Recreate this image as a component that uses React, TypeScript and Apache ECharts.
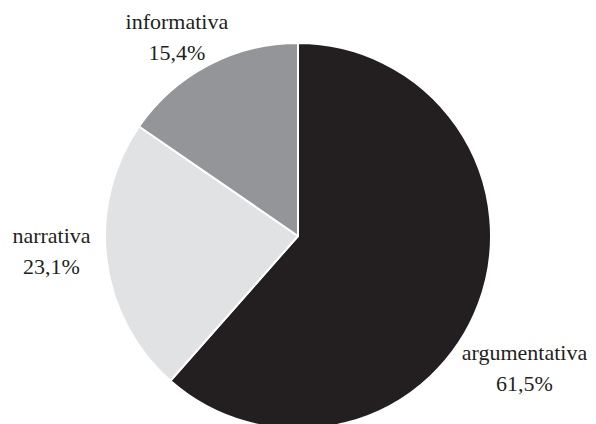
import React, { useEffect, useRef } from "react";
import * as echarts from "echarts";

const categories = ["argumentativa", "narrativa", "informativa"];
const values = [61.5, 23.1, 15.4];
const sliceColors = ["#231f20", "#e1e2e3", "#939598"];

// label placement (polar, relative to the pie's centre): extra angle in degrees and distance in px
const labelAngleShift = [9.5, 3.5, -3.6];
const labelDistance = [262, 247, 233];

const CX = 298;
const CY = 236;
const R = 193;

function fmt(v: number): string {
  return v.toFixed(1).replace(".", ",") + "%";
}

export default function App() {
  const ref = useRef<HTMLDivElement>(null);

  useEffect(() => {
    if (!ref.current) return;
    const chart = echarts.init(ref.current, null, { renderer: "svg" });
    const total = values.reduce((a, b) => a + b, 0);
    const mids: number[] = [];
    let acc = 0;
    values.forEach((v) => {
      mids.push(((acc + v / 2) / total) * 360);
      acc += v;
    });

    chart.setOption({
      animation: false,
      backgroundColor: "#ffffff",
      series: [
        {
          type: "pie",
          center: [CX, CY],
          radius: R,
          startAngle: 90,
          clockwise: true,
          silent: true,
          avoidLabelOverlap: false,
          data: categories.map((name, i) => ({
            name,
            value: values[i],
            itemStyle: { color: sliceColors[i] },
          })),
          itemStyle: { borderColor: "#ffffff", borderWidth: 2 },
          label: {
            show: true,
            position: "outside",
            alignTo: "none",
            overflow: "none",
            formatter: (p: any) => `${p.name}\n${fmt(p.value)}`,
            fontFamily: "Liberation Serif",
            fontSize: 22,
            lineHeight: 31,
            color: "#231f20",
            align: "center",
          },
          labelLine: { show: false },
          labelLayout: (p: any) => {
            const i = p.dataIndex;
            const a = ((mids[i] + labelAngleShift[i]) * Math.PI) / 180;
            const d = labelDistance[i];
            return {
              x: CX + d * Math.sin(a),
              y: CY - d * Math.cos(a),
              align: "center",
              verticalAlign: "middle",
            };
          },
        },
      ],
    });
    return () => chart.dispose();
  }, []);

  return (
    <div
      ref={ref}
      style={{ position: "fixed", left: 0, top: 0, width: 596, height: 424 }}
    />
  );
}
